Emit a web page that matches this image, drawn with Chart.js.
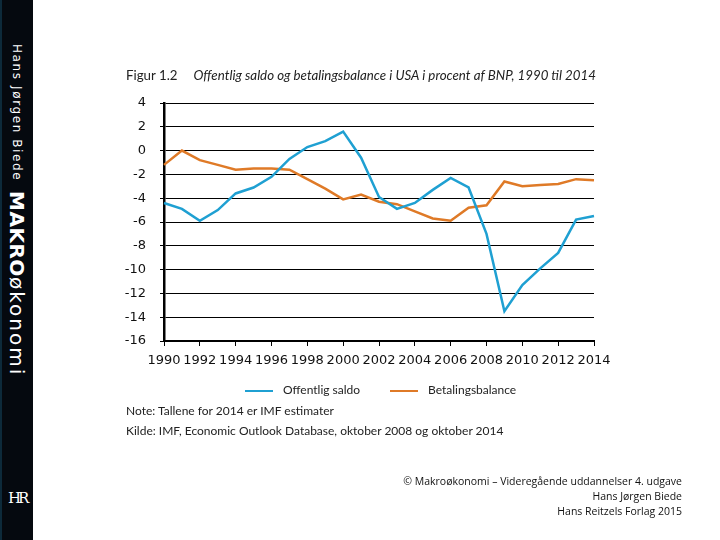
<!DOCTYPE html>
<html>
<head>
<meta charset="utf-8">
<script src="https://cdn.jsdelivr.net/npm/chart.js@4/dist/chart.umd.min.js"></script>
<style>
  html, body { margin: 0; padding: 0; background: #fff; }
  body { width: 720px; height: 540px; position: relative; overflow: hidden; font-family: Lato, "Open Sans", sans-serif; color: #222; }
  #side { position: absolute; left: 0; top: 0; width: 33px; height: 540px; background: #05090f; border-left: 2px solid #0d2a3a; box-sizing: border-box; }
  #spine { position: absolute; left: 3px; top: 44px; writing-mode: vertical-rl; color: #fff; white-space: nowrap; }
  #spine .author { font-family: "DejaVu Sans", sans-serif; font-size: 12px; letter-spacing: 1.6px; }
  #spine .m { font-family: "DejaVu Sans", sans-serif; font-size: 20px; font-weight: bold; letter-spacing: 0.5px; margin-top: 10px; }
  #spine .o { font-family: "DejaVu Sans", sans-serif; font-size: 20px; letter-spacing: 2px; }
  #logo { position: absolute; left: 6px; top: 489px; color: #fff; font-family: "DejaVu Serif", serif; font-size: 15px; letter-spacing: -3px; }
  #wrap { position: absolute; left: 0; top: 0; width: 720px; height: 540px; }
  .title { position: absolute; left: 126px; top: 67px; font-size: 13.3px; white-space: nowrap; }
  .title i { margin-left: 16px; }
  .legend { position: absolute; top: 382px; font-size: 12px; white-space: nowrap; }
  .legend span.sw { display: inline-block; width: 28px; height: 2px; vertical-align: middle; margin-right: 10px; }
  .note { position: absolute; left: 126px; font-size: 12px; white-space: nowrap; }
  .copy { position: absolute; right: 38px; top: 474px; text-align: right; font-family: "Open Sans", sans-serif; font-size: 10.5px; line-height: 15px; color: #111; }
</style>
</head>
<body>
<div id="wrap"><canvas id="chart" width="720" height="540"></canvas></div>
<div id="side">
  <div id="spine"><span class="author">Hans Jørgen Biede</span><span class="m">MAKRO</span><span class="o">økonomi</span></div>
  <div id="logo">HR</div>
</div>
<div class="title">Figur 1.2<i>Offentlig saldo og betalingsbalance i USA i procent af BNP, 1990 til 2014</i></div>
<div class="legend" style="left:245px"><span class="sw" style="background:#1fa0d2"></span>Offentlig saldo</div>
<div class="legend" style="left:390px"><span class="sw" style="background:#df7a27"></span>Betalingsbalance</div>
<div class="note" style="top:403px">Note: Tallene for 2014 er IMF estimater</div>
<div class="note" style="top:423px">Kilde: IMF, Economic Outlook Database, oktober 2008 og oktober 2014</div>
<div class="copy">© Makroøkonomi – Videregående uddannelser 4. udgave<br>Hans Jørgen Biede<br>Hans Reitzels Forlag 2015</div>
<script>
const years = [1990, 1991, 1992, 1993, 1994, 1995, 1996, 1997, 1998, 1999, 2000, 2001,
  2002, 2003, 2004, 2005, 2006, 2007, 2008, 2009, 2010, 2011, 2012, 2013, 2014];
const offentligSaldo = [-4.4, -4.9, -5.9, -5.0, -3.6, -3.1, -2.2, -0.7, 0.3, 0.8, 1.6, -0.6,
  -3.9, -4.9, -4.4, -3.3, -2.3, -3.1, -7.0, -13.5, -11.3, -9.9, -8.6, -5.8, -5.5];
const betalingsbalance = [-1.2, 0.0, -0.8, -1.2, -1.6, -1.5, -1.5, -1.6, -2.4, -3.2, -4.1, -3.7,
  -4.3, -4.5, -5.1, -5.7, -5.9, -4.8, -4.6, -2.6, -3.0, -2.9, -2.8, -2.4, -2.5];
const yMin = -16, yMax = 4, yStep = 2;

const axisFont = { family: "DejaVu Sans", size: 13 };

new Chart(document.getElementById("chart"), {
  type: "line",
  data: {
    labels: years.map(String),
    datasets: [
      { label: "Offentlig saldo", data: offentligSaldo, borderColor: "#1fa0d2", borderWidth: 2.5, pointRadius: 0, tension: 0 },
      { label: "Betalingsbalance", data: betalingsbalance, borderColor: "#df7a27", borderWidth: 2.5, pointRadius: 0, tension: 0 },
    ],
  },
  options: {
    responsive: false,
    animation: false,
    layout: { padding: { left: 124, right: 126, top: 103, bottom: 169 } },
    plugins: { legend: { display: false }, tooltip: { enabled: false } },
    scales: {
      x: {
        offset: false,
        afterFit: (s) => { s.height = 30; },
        border: { color: "#000", width: 2 },
        grid: {
          drawOnChartArea: false,
          tickLength: 5,
          color: (c) => (c.index % 2 === 0 ? "#000" : "rgba(0,0,0,0)"),
        },
        ticks: {
          autoSkip: false,
          maxRotation: 0,
          color: "#111",
          font: axisFont,
          padding: 7,
          callback: function (v, i) { return i % 2 === 0 ? this.getLabelForValue(v) : ""; },
        },
      },
      y: {
        min: yMin,
        max: yMax,
        afterFit: (s) => { s.width = 40; },
        border: { color: "#000", width: 2.5 },
        grid: { color: "#000", lineWidth: 1, tickLength: 4 },
        ticks: { stepSize: yStep, color: "#111", font: axisFont, padding: 14 },
      },
    },
  },
});
</script>
</body>
</html>
